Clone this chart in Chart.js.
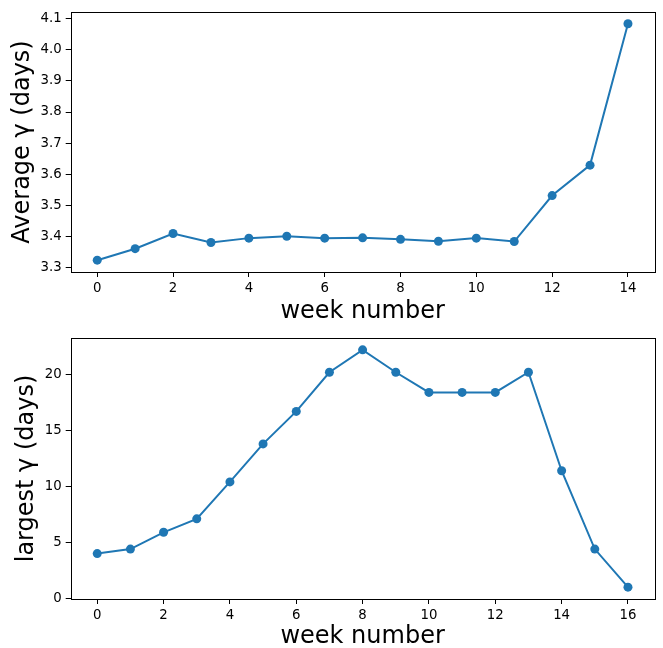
<!DOCTYPE html>
<html>
<head>
<meta charset="utf-8">
<script src="https://cdn.jsdelivr.net/npm/chart.js@4"></script>
<style>
  body { margin: 0; background: #fff; }
  canvas { position: absolute; left: 0; }
</style>
</head>
<body>
<canvas id="avgChart" width="663" height="323" style="top:0px"></canvas>
<canvas id="maxChart" width="663" height="325" style="top:323px"></canvas>
<script>
// week numbers for each panel
const weeksAvg = [0, 1, 2, 3, 4, 5, 6, 7, 8, 9, 10, 11, 12, 13, 14];
const weeksMax = [0, 1, 2, 3, 4, 5, 6, 7, 8, 9, 10, 11, 12, 13, 14, 15, 16];

// average gamma per week (days)
const avgGamma = [3.323, 3.360, 3.409, 3.380, 3.394, 3.400, 3.394, 3.395,
                  3.390, 3.384, 3.394, 3.383, 3.531, 3.629, 4.084];

// largest gamma per week (days)
const maxGamma = [4.0, 4.4, 5.9, 7.1, 10.4, 13.8, 16.7, 20.2, 22.2,
                  20.2, 18.4, 18.4, 18.4, 20.2, 11.4, 4.4, 1.0];

const xLabel = "week number";
const yLabelAvg = "Average γ (days)";
const yLabelMax = "largest γ (days)";

const blue = "#1f77b4";
const font = "'DejaVu Sans', sans-serif";

// matplotlib style 5% margins around the data
function padRange(vals) {
    const lo = Math.min(...vals), hi = Math.max(...vals);
    const m = (hi - lo) * 0.05;
    return [lo - m, hi + m];
}

// draws the full box round the plot area
const frame = {
    id: "frame",
    afterDraw(chart) {
        const a = chart.chartArea;
        const ctx = chart.ctx;
        ctx.save();
        ctx.strokeStyle = "#000";
        ctx.lineWidth = 1;
        ctx.strokeRect(Math.round(a.left) + 0.5, Math.round(a.top) + 0.5,
                       Math.round(a.right - a.left), Math.round(a.bottom - a.top));
        ctx.restore();
    }
};

function makeChart(id, weeks, vals, yTitle, yStep, yDigits, opts) {
    const xr = padRange(weeks);
    const yr = padRange(vals);
    const points = weeks.map((w, i) => ({ x: w, y: vals[i] }));
    return new Chart(id, {
        type: "line",
        data: {
            datasets: [{
                data: points,
                borderColor: blue,
                backgroundColor: blue,
                borderWidth: 2,
                pointRadius: 4.5,
                pointHoverRadius: 4.5,
                pointBorderWidth: 0,
                pointBackgroundColor: blue,
                tension: 0
            }]
        },
        options: {
            responsive: false,
            animation: false,
            devicePixelRatio: 1,
            layout: { padding: { top: opts.top, right: 8.5, left: 0, bottom: 0 } },
            plugins: { legend: { display: false }, tooltip: { enabled: false } },
            scales: {
                x: {
                    type: "linear",
                    min: xr[0],
                    max: xr[1],
                    afterFit(scale) { scale.height = opts.xHeight; },
                    border: { display: false },
                    grid: { drawOnChartArea: false, drawTicks: true, tickLength: 5, color: "#000" },
                    ticks: {
                        stepSize: 2,
                        includeBounds: false,
                        autoSkip: false,
                        maxRotation: 0,
                        padding: 4,
                        color: "#000",
                        font: { family: font, size: 13.3 },
                        callback: v => String(Math.round(v))
                    },
                    title: {
                        display: true,
                        text: xLabel,
                        color: "#000",
                        padding: 0,
                        font: { family: font, size: 24, lineHeight: 0.9 }
                    }
                },
                y: {
                    min: yr[0],
                    max: yr[1],
                    afterFit(scale) { scale.width = 70.7; },
                    border: { display: false },
                    grid: { drawOnChartArea: false, drawTicks: true, tickLength: 5, color: "#000" },
                    ticks: {
                        stepSize: yStep,
                        includeBounds: false,
                        padding: 4,
                        color: "#000",
                        font: { family: font, size: 13.3 },
                        callback: v => Number(v).toFixed(yDigits)
                    },
                    title: {
                        display: true,
                        text: yTitle,
                        color: "#000",
                        padding: { top: opts.yTitlePad, bottom: 0 },
                        font: { family: font, size: 24, lineHeight: 1 }
                    }
                }
            }
        },
        plugins: [frame]
    });
}

makeChart("avgChart", weeksAvg, avgGamma, yLabelAvg, 0.1, 1,
          { top: 11, xHeight: 51, yTitlePad: 11 });
makeChart("maxChart", weeksMax, maxGamma, yLabelMax, 5, 0,
          { top: 15, xHeight: 49, yTitlePad: 15 });
</script>
</body>
</html>
